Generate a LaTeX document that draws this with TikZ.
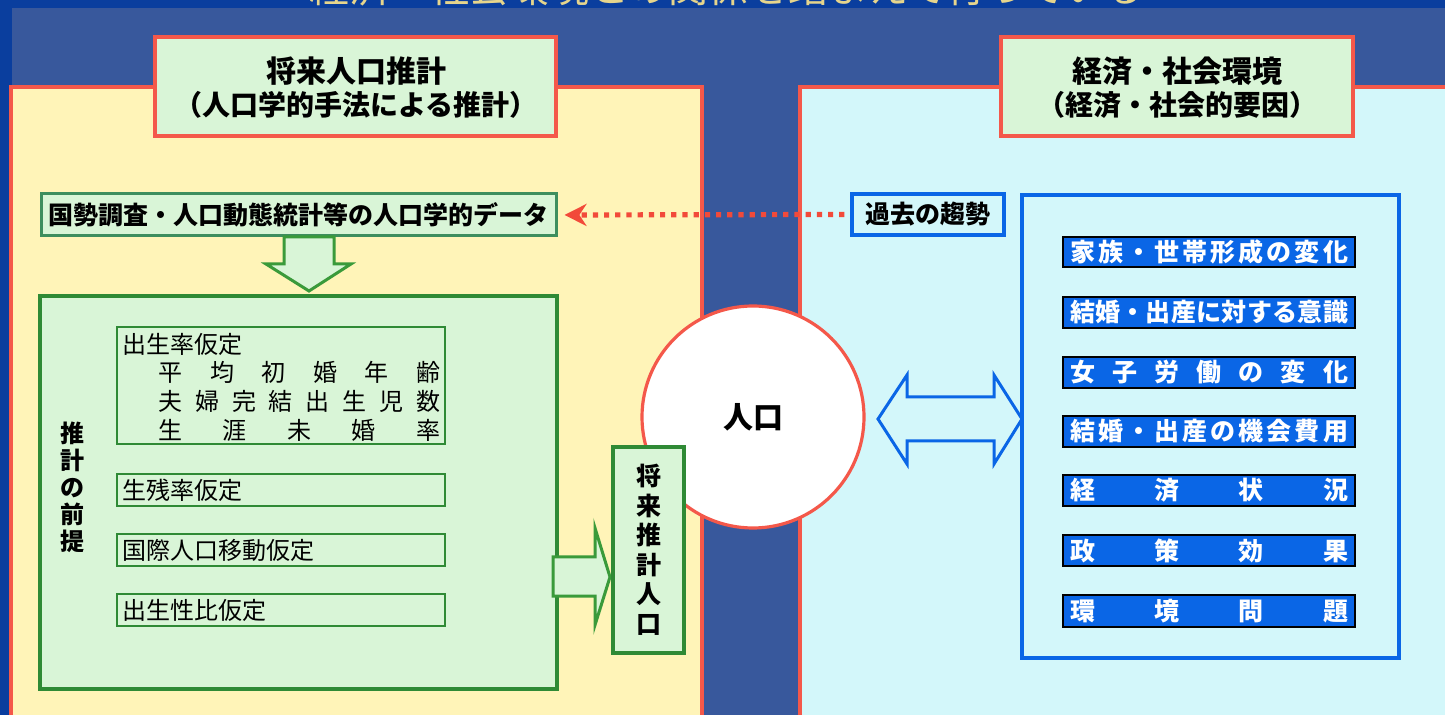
\documentclass[tikz,border=0pt]{standalone}
\usepackage{fontspec}
\setmainfont{Noto Sans CJK JP}
\usetikzlibrary{arrows.meta,fit}
\definecolor{outerblue}{HTML}{0A3E9E}
\definecolor{slate}{HTML}{38589C}
\definecolor{ylw}{HTML}{FFF4B8}
\definecolor{cyanbg}{HTML}{D3F7FA}
\definecolor{redb}{HTML}{F4584A}
\definecolor{lgreen}{HTML}{D9F5D7}
\definecolor{gborder}{HTML}{2F8A35}
\definecolor{databorder}{HTML}{3D8E5E}
\definecolor{garrow}{HTML}{3A9A3A}
\definecolor{bblue}{HTML}{0A66E6}
\definecolor{reddot}{HTML}{F24A3A}
\definecolor{toptext}{HTML}{E6D58C}
\tikzset{
  panel/.style={draw=redb, line width=1.6pt, inner sep=0pt},
  titlebox/.style={draw=redb, line width=1.6pt, fill=lgreen, inner sep=0pt},
  titletext/.style={inner sep=0pt, align=center},
  databox/.style={draw=databorder, line width=1.5pt, fill=lgreen, inner sep=0pt},
  boldtext/.style={inner sep=0pt, font=\bfseries\fontsize{12.5}{12.5}\selectfont},
  gbox/.style={draw=gborder, line width=1.6pt, fill=lgreen, inner sep=0pt},
  subbox/.style={draw=gborder, line width=1.3pt, fill=lgreen, inner sep=0pt},
  gtext/.style={inner sep=0pt, font=\fontsize{12}{12}\selectfont},
  vtext/.style={inner sep=0pt, align=center},
  bbox/.style={draw=bblue, line width=1.6pt, fill=cyanbg, inner sep=0pt},
  itembox/.style={draw=black, line width=0.8pt, fill=bblue, inner sep=0pt},
  itemtext/.style={inner sep=0pt, text=white, font=\bfseries\fontsize{12.5}{12.5}\selectfont},
  blockg/.style={draw=garrow, line width=1.5pt, fill=lgreen, line join=miter},
  blockb/.style={draw=bblue, line width=1.5pt, fill=cyanbg, line join=miter},
  dotarrow/.style={draw=reddot, line width=2.6pt, dash pattern=on 2.6pt off 3pt,
    -{Stealth[length=11pt,width=11pt]}},
}
\begin{document}
\begin{tikzpicture}[x=0.5pt,y=-0.5pt]
\useasboundingbox (0,0) rectangle (1445,715);
\fill[outerblue] (0,0) rectangle (1445,715);
\fill[slate] (12,8) rectangle (1445,715);
\begin{scope}
  \clip (0,0) rectangle (1445,8);
  \node[anchor=base, inner sep=0pt, text=toptext, font=\fontsize{20}{20}\selectfont] (toptitle) at (727,3)
    {経済・社会環境との関係を踏まえて行っている};
\end{scope}

% panels
\node[panel, fill=ylw, fit={(11,87)(702,745)}] (lpanel) {};
\node[panel, fill=cyanbg, fit={(800,87)(1465,745)}] (rpanel) {};

% titles
\node[titlebox, fit={(155,37)(556,136)}] (ltitle) {};
\node[titletext, font=\bfseries\fontsize{15}{15}\selectfont] (ltitle1) at (356,71) {将来人口推計};
\node[titletext, font=\bfseries\fontsize{14}{14}\selectfont] (ltitle2) at (356,105) {（人口学的手法による推計）};
\node[titlebox, fit={(1001,37)(1353,136)}] (rtitle) {};
\node[titletext, font=\bfseries\fontsize{15}{15}\selectfont] (rtitle1) at (1177,71) {経済・社会環境};
\node[titletext, font=\bfseries\fontsize{14}{14}\selectfont] (rtitle2) at (1177,105) {（経済・社会的要因）};

% left side
\node[databox, fit={(41,194)(556,236)}] (data) {};
\node[boldtext] (datatext) at (data.center) {国勢調査・人口動態統計等の人口学的データ};
\node[gbox, fit={(40,296)(557,689)}] (premise) {};
\draw[blockg] (284,237) -- (334,237) -- (334,264) -- (351,264) -- (309,291) -- (266,264) -- (284,264) -- cycle;

\node[vtext, font=\bfseries\fontsize{12}{13.5}\selectfont] (premlabel) at (72,487.5) {推\\計\\の\\前\\提};

\node[subbox, fit={(117,327)(445,444)}] (fert) {};
\node[gtext, anchor=west] (fertlabel) at (122,344) {出生率仮定};
\node[gtext, anchor=west] (row1) at (158,372) {\makebox[141pt]{平\hfill 均\hfill 初\hfill 婚\hfill 年\hfill 齢}};
\node[gtext, anchor=west] (row2) at (158,401) {\makebox[141pt]{夫\hfill 婦\hfill 完\hfill 結\hfill 出\hfill 生\hfill 児\hfill 数}};
\node[gtext, anchor=west] (row3) at (158,430) {\makebox[141pt]{生\hfill 涯\hfill 未\hfill 婚\hfill 率}};

\node[subbox, fit={(117,474)(445,506)}] (surv) {};
\node[gtext, anchor=west] (survlabel) at (122,490) {生残率仮定};
\node[subbox, fit={(117,534)(445,566)}] (migr) {};
\node[gtext, anchor=west] (migrlabel) at (122,550) {国際人口移動仮定};
\node[subbox, fit={(117,594)(445,626)}] (sexr) {};
\node[gtext, anchor=west] (sexrlabel) at (122,610) {出生性比仮定};

\draw[blockg] (553,557) -- (595,557) -- (595,528) -- (610,577) -- (595,625) -- (595,596) -- (553,596) -- cycle;

% centre
\node[circle, draw=redb, line width=1.6pt, fill=white, minimum size=111pt, inner sep=0pt,
  font=\bfseries\fontsize{15}{15}\selectfont] (pop) at (753,417) {人口};

\node[gbox, fit={(613,447)(684,653)}] (future) {};
\node[vtext, font=\bfseries\fontsize{12.5}{14.75}\selectfont] (futurelabel) at (future.center) {将\\来\\推\\計\\人\\口};

% right side
\draw[blockb] (878,419) -- (907,375) -- (907,397) -- (994,397) -- (994,375) -- (1022,419)
  -- (994,464) -- (994,441) -- (907,441) -- (907,464) -- cycle;

\node[bbox, fit={(852,194)(1004,235)}] (trend) {};
\node[boldtext] (trendtext) at (trend.center) {過去の趨勢};
\node[bbox, line width=2pt, fit={(1022,195)(1399,658)}] (factors) {};

\node[itembox, fit={(1063,237)(1355,267)}] (i1) {};
\node[itemtext] (t1) at (i1.center) {\makebox[139pt]{家\hfill 族\hfill ・\hfill 世\hfill 帯\hfill 形\hfill 成\hfill の\hfill 変\hfill 化}};
\node[itembox, fit={(1063,297)(1355,328)}] (i2) {};
\node[itemtext] (t2) at (i2.center) {\makebox[139pt]{結\hfill 婚\hfill ・\hfill 出\hfill 産\hfill に\hfill 対\hfill す\hfill る\hfill 意\hfill 識}};
\node[itembox, fit={(1063,357)(1355,388)}] (i3) {};
\node[itemtext] (t3) at (i3.center) {\makebox[139pt]{女\hfill 子\hfill 労\hfill 働\hfill の\hfill 変\hfill 化}};
\node[itembox, fit={(1063,416)(1355,447)}] (i4) {};
\node[itemtext] (t4) at (i4.center) {\makebox[139pt]{結\hfill 婚\hfill ・\hfill 出\hfill 産\hfill の\hfill 機\hfill 会\hfill 費\hfill 用}};
\node[itembox, fit={(1063,475)(1355,506)}] (i5) {};
\node[itemtext] (t5) at (i5.center) {\makebox[139pt]{経\hfill 済\hfill 状\hfill 況}};
\node[itembox, fit={(1063,535)(1355,566)}] (i6) {};
\node[itemtext] (t6) at (i6.center) {\makebox[139pt]{政\hfill 策\hfill 効\hfill 果}};
\node[itembox, fit={(1063,595)(1355,627)}] (i7) {};
\node[itemtext] (t7) at (i7.center) {\makebox[139pt]{環\hfill 境\hfill 問\hfill 題}};

% dotted connector
\draw[dotarrow, shorten >=3.5pt] ([xshift=-3pt]trend.west) -- (data.east);
\end{tikzpicture}
\end{document}
